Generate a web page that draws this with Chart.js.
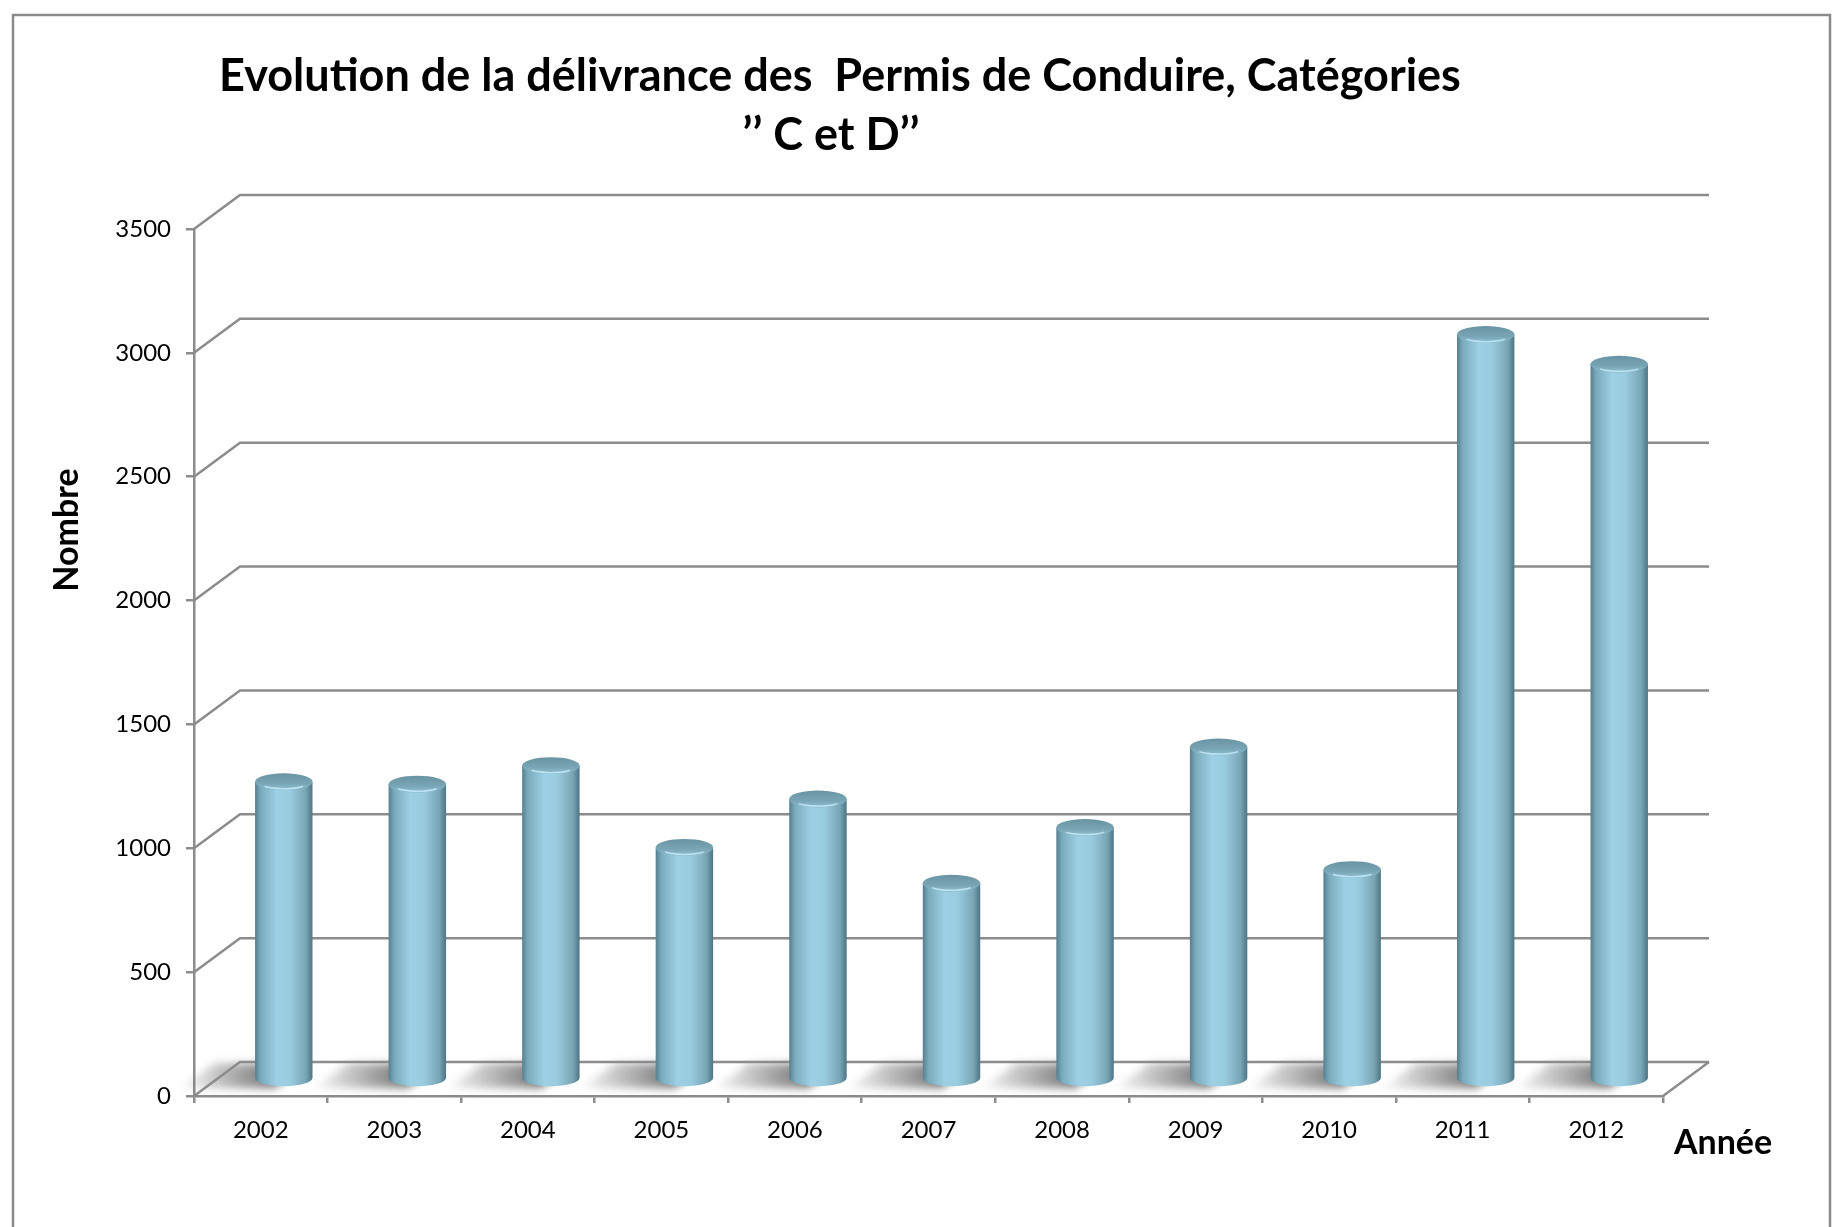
<!DOCTYPE html>
<html>
<head>
<meta charset="utf-8">
<title>Permis de Conduire C et D</title>
<script src="https://cdn.jsdelivr.net/npm/chart.js@4.4.1/dist/chart.umd.min.js"></script>
<style>
  html, body { margin: 0; padding: 0; background: #fff; }
  #wrap { width: 1838px; height: 1227px; }
</style>
</head>
<body>
<div id="wrap"><canvas id="chart" width="1838" height="1227"></canvas></div>
<script>
// données
const annees = ['2002', '2003', '2004', '2005', '2006', '2007', '2008', '2009', '2010', '2011', '2012'];
const permis = [1200, 1190, 1265, 935, 1130, 790, 1015, 1340, 845, 3005, 2885];
const yMin = 0, yMax = 3500, yStep = 500;

const titre = ['Evolution de la délivrance des  Permis de Conduire, Catégories', '’’ C et D’’'];
const titreY = 'Nombre';
const titreX = 'Année';

// effet 3D : décalage entre le plan avant et le mur du fond
const DX = 46, DY = -34;
const gris = '#8c8c8c';

function cylindre(ctx, cx, top, bottom, r, ry) {
    // corps
    const g = ctx.createLinearGradient(cx - r, 0, cx + r, 0);
    g.addColorStop(0, '#557f8e');
    g.addColorStop(0.1, '#7aabbc');
    g.addColorStop(0.38, '#9dd0e4');
    g.addColorStop(0.6, '#9acce0');
    g.addColorStop(0.88, '#79a6b6');
    g.addColorStop(1, '#4c7584');
    ctx.fillStyle = g;
    ctx.beginPath();
    ctx.moveTo(cx - r, top);
    ctx.lineTo(cx - r, bottom);
    ctx.ellipse(cx, bottom, r, ry, 0, Math.PI, 0, true);
    ctx.lineTo(cx + r, top);
    ctx.closePath();
    ctx.fill();

    // dessus
    const gc = ctx.createLinearGradient(0, top - ry, 0, top + ry);
    gc.addColorStop(0, '#6993a3');
    gc.addColorStop(0.6, '#78a5b5');
    gc.addColorStop(1, '#90c2d4');
    ctx.fillStyle = gc;
    ctx.beginPath();
    ctx.ellipse(cx, top, r, ry, 0, 0, Math.PI * 2);
    ctx.fill();

    ctx.strokeStyle = 'rgba(195,232,246,0.9)';
    ctx.lineWidth = 1.5;
    ctx.beginPath();
    ctx.ellipse(cx, top + 1, r - 5, ry - 2.5, 0, 0.2 * Math.PI, 0.8 * Math.PI);
    ctx.stroke();
}

const decor = {
    id: 'decor',
    beforeDraw(chart) {
        const ctx = chart.ctx;
        ctx.save();
        ctx.fillStyle = '#fff';
        ctx.fillRect(0, 0, chart.width, chart.height);
        ctx.strokeStyle = '#8a8a8a';
        ctx.lineWidth = 2.5;
        ctx.strokeRect(13, 15, 1817, chart.height + 20);
        ctx.restore();
    },
    beforeDatasetsDraw(chart) {
        const ctx = chart.ctx;
        const ys = chart.scales.y;
        const area = chart.chartArea;
        ctx.save();

        // ombres sur le sol
        const meta = chart.getDatasetMeta(0);
        ctx.filter = 'blur(4px)';
        meta.data.forEach(bar => {
            const x0 = bar.x - bar.width / 2 - 60;
            const x1 = bar.x + 4;
            const t0 = 0.2, t1 = 0.92;
            const yb = bar.base;
            const g = ctx.createLinearGradient(x0, 0, x1 + DX * 0.5, 0);
            g.addColorStop(0, 'rgba(120,120,120,0)');
            g.addColorStop(0.6, 'rgba(100,100,100,0.6)');
            g.addColorStop(1, 'rgba(85,85,85,0.95)');
            ctx.fillStyle = g;
            ctx.beginPath();
            ctx.moveTo(x0 + DX * t0, yb + DY * t0);
            ctx.lineTo(x1 + DX * t0, yb + DY * t0);
            ctx.lineTo(x1 + DX * t1, yb + DY * t1);
            ctx.lineTo(x0 + DX * t1, yb + DY * t1);
            ctx.closePath();
            ctx.fill();
        });
        ctx.filter = 'none';

        // quadrillage du mur du fond
        ctx.strokeStyle = gris;
        ctx.lineWidth = 2.5;
        ys.ticks.forEach(t => {
            const py = ys.getPixelForValue(t.value);
            ctx.beginPath();
            ctx.moveTo(area.left, py);
            ctx.lineTo(area.left + DX, py + DY);
            ctx.lineTo(area.right + DX, py + DY);
            ctx.stroke();
        });
        const p0 = ys.getPixelForValue(0);
        ctx.beginPath();
        ctx.moveTo(area.right, p0);
        ctx.lineTo(area.right + DX, p0 + DY);
        ctx.stroke();
        ctx.restore();
    },
    afterDatasetsDraw(chart) {
        const ctx = chart.ctx;
        const meta = chart.getDatasetMeta(0);
        ctx.save();
        meta.data.forEach(bar => {
            cylindre(ctx, bar.x + DX / 2, bar.y + DY / 2, bar.base + DY / 2, bar.width / 2, 8.5);
        });
        ctx.restore();
    },
    afterDraw(chart) {
        const ctx = chart.ctx;
        ctx.save();
        ctx.fillStyle = '#000';
        ctx.textAlign = 'center';
        ctx.textBaseline = 'alphabetic';
        ctx.font = 'bold 45px Lato';
        ctx.fillText(titre[0], 840, 91);
        ctx.fillText(titre[1], 831, 150);

        ctx.font = 'bold 34px Lato';
        ctx.textBaseline = 'middle';
        ctx.fillText(titreX, 1723, 1143);
        ctx.translate(67, 530);
        ctx.rotate(-Math.PI / 2);
        ctx.fillText(titreY, 0, 0);
        ctx.restore();
    }
};

new Chart(document.getElementById('chart').getContext('2d'), {
    type: 'bar',
    data: {
        labels: annees,
        datasets: [{
            label: 'Nombre',
            data: permis,
            backgroundColor: 'rgba(0,0,0,0)',
            borderWidth: 0,
            categoryPercentage: 1,
            barPercentage: 0.43
        }]
    },
    options: {
        responsive: false,
        animation: false,
        devicePixelRatio: 1,
        layout: { padding: { left: 114, top: 229, right: 175, bottom: 71 } },
        plugins: {
            legend: { display: false },
            tooltip: { enabled: false },
            title: { display: false }
        },
        scales: {
            x: {
                afterFit: s => { s.height = 60; },
                grid: { offset: true, drawOnChartArea: false, tickLength: 7, color: gris, lineWidth: 2.5 },
                border: { color: gris, width: 2.5 },
                ticks: { color: '#000', padding: 13, font: { family: 'Lato', size: 24 } }
            },
            y: {
                min: yMin,
                max: yMax,
                afterFit: s => { s.width = 80; },
                grid: { drawOnChartArea: false, tickLength: 8, color: gris, lineWidth: 2.5 },
                border: { color: gris, width: 2.5 },
                ticks: {
                    stepSize: yStep,
                    color: '#000',
                    padding: 15,
                    font: { family: 'Lato', size: 24 },
                    callback: v => String(v)
                }
            }
        }
    },
    plugins: [decor]
});
</script>
</body>
</html>
